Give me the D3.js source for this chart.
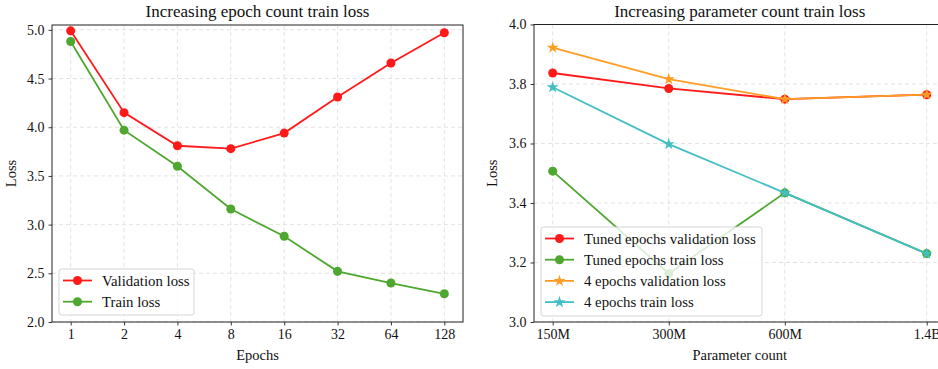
<!DOCTYPE html>
<html>
<head>
<meta charset="utf-8">
<script src="https://cdn.jsdelivr.net/npm/d3@7"></script>
<style>
  body { margin: 0; background: #fff; }
  svg text { font-family: "Liberation Serif", "DejaVu Serif", serif; fill: #111; }
</style>
</head>
<body>
<div id="chart"></div>
<script>
// left panel data
var epochs = ["1", "2", "4", "8", "16", "32", "64", "128"];
var epochValLoss = [4.99, 4.15, 3.81, 3.78, 3.94, 4.31, 4.66, 4.97];
var epochTrainLoss = [4.88, 3.97, 3.60, 3.16, 2.88, 2.52, 2.40, 2.29];
var leftYTicks = [2.0, 2.5, 3.0, 3.5, 4.0, 4.5, 5.0];

// right panel data
var params = [150e6, 300e6, 600e6, 1.4e9];
var paramLabels = ["150M", "300M", "600M", "1.4B"];
var tunedValLoss = [3.837, 3.785, 3.749, 3.764];
var tunedTrainLoss = [3.507, 3.163, 3.434, 3.230];
var fourValLoss = [3.922, 3.816, 3.749, 3.764];
var fourTrainLoss = [3.789, 3.598, 3.434, 3.230];
var rightYTicks = [3.0, 3.2, 3.4, 3.6, 3.8, 4.0];

var red = "#ff1a1a", green = "#4ea72e", orange = "#ff9d24", cyan = "#42bec4";

var svg = d3.select("#chart").append("svg")
	.attr("width", 938)
	.attr("height", 369);

function markerFor(s) {
	return s.marker == "star" ? d3.symbol().type(d3.symbolStar).size(44) : d3.symbol().type(d3.symbolCircle).size(64);
}

function drawPanel(opt) {
	var g = svg.append("g");
	var x0 = opt.x0, x1 = opt.x1, y0 = opt.y0, y1 = opt.y1;
	var x = opt.x, y = opt.y;

	// grid
	g.append("g").selectAll("line").data(opt.xTickVals).enter().append("line")
		.attr("x1", function(d){ return x(d) }).attr("x2", function(d){ return x(d) })
		.attr("y1", y0).attr("y2", y1)
		.attr("stroke", "#e0e0e0").attr("stroke-width", 0.9).attr("stroke-dasharray", "4,3");
	g.append("g").selectAll("line").data(opt.yTicks).enter().append("line")
		.attr("x1", x0).attr("x2", x1)
		.attr("y1", function(d){ return y(d) }).attr("y2", function(d){ return y(d) })
		.attr("stroke", "#e0e0e0").attr("stroke-width", 0.9).attr("stroke-dasharray", "4,3");

	// series
	opt.series.forEach(function(s){
		var pts = opt.xTickVals.map(function(k, i){ return [x(k), y(s.values[i])] });
		g.append("path")
			.attr("d", d3.line()(pts))
			.attr("fill", "none").attr("stroke", s.color).attr("stroke-width", 1.8);
		g.append("g").selectAll("path").data(pts).enter().append("path")
			.attr("d", markerFor(s))
			.attr("transform", function(p){ return "translate(" + p[0] + "," + p[1] + ")" })
			.attr("fill", s.color);
	});

	// axes
	var xAxis = d3.axisBottom(x).tickValues(opt.xTickVals).tickSize(3.5).tickPadding(4)
		.tickFormat(function(d, i){ return opt.xLabels[i] });
	var gx = g.append("g").attr("transform", "translate(0," + y1 + ")").call(xAxis);
	var yAxis = d3.axisLeft(y).tickValues(opt.yTicks).tickSize(3.5).tickPadding(4)
		.tickFormat(d3.format(".1f"));
	var gy = g.append("g").attr("transform", "translate(" + x0 + ",0)").call(yAxis);
	[gx, gy].forEach(function(a){
		a.select(".domain").remove();
		a.selectAll("line").attr("stroke", "#222").attr("stroke-width", 0.9);
		a.selectAll("text").style("font-size", "14px").attr("fill", "#111");
	});

	// spines
	g.append("rect")
		.attr("x", x0).attr("y", y0).attr("width", x1 - x0).attr("height", y1 - y0)
		.attr("fill", "none").attr("stroke", "#222").attr("stroke-width", 1);

	// titles
	g.append("text").attr("x", (x0 + x1) / 2).attr("y", 17)
		.attr("text-anchor", "middle").style("font-size", "17px").text(opt.title);
	g.append("text").attr("x", (x0 + x1) / 2).attr("y", 360)
		.attr("text-anchor", "middle").style("font-size", "14.5px").text(opt.xTitle);
	g.append("text")
		.attr("transform", "translate(" + opt.yTitleX + "," + ((y0 + y1) / 2) + ") rotate(-90)")
		.attr("text-anchor", "middle").style("font-size", "14.5px").text("Loss");

	// legend
	var L = opt.legend;
	var lg = g.append("g");
	lg.append("rect")
		.attr("x", L.x).attr("y", L.y).attr("width", L.w).attr("height", L.h)
		.attr("rx", 2.5).attr("fill", "#fff").attr("fill-opacity", 0.8)
		.attr("stroke", "#d0d0d0").attr("stroke-width", 0.9);
	opt.series.forEach(function(s, i){
		var cy = L.y + 11.5 + i * 21.2;
		lg.append("line").attr("x1", L.x + 4).attr("x2", L.x + 33)
			.attr("y1", cy).attr("y2", cy).attr("stroke", s.color).attr("stroke-width", 1.8);
		lg.append("path").attr("d", markerFor(s))
			.attr("transform", "translate(" + (L.x + 18.5) + "," + cy + ")").attr("fill", s.color);
		lg.append("text").attr("x", L.x + 43).attr("y", cy + 5)
			.style("font-size", "14.8px").text(s.name);
	});
	return g;
}

// left panel
var lx0 = 52, lx1 = 463, ly0 = 25, ly1 = 322;
var xLeft = d3.scalePoint().domain(epochs).range([lx0, lx1]).padding(0.35);
var yLeft = d3.scaleLinear().domain([2.0, 5.05]).range([ly1, ly0]);
drawPanel({
	x0: lx0, x1: lx1, y0: ly0, y1: ly1, x: xLeft, y: yLeft,
	xTickVals: epochs, xLabels: epochs, yTicks: leftYTicks,
	title: "Increasing epoch count train loss", xTitle: "Epochs", yTitleX: 16,
	series: [
		{ name: "Validation loss", values: epochValLoss, color: red, marker: "circle" },
		{ name: "Train loss", values: epochTrainLoss, color: green, marker: "circle" }
	],
	legend: { x: 59, y: 269, w: 135, h: 46 }
});

// right panel (axes run past the page edge, as in the figure)
var rx0 = 534, rx1 = 945.4, ry0 = 24.5, ry1 = 322;
var rm = (rx1 - rx0) * 0.05 / 1.1;
var xRight = d3.scaleLog().domain([params[0], params[params.length - 1]]).range([rx0 + rm, rx1 - rm]);
var yRight = d3.scaleLinear().domain([3.0, 4.0]).range([ry1, ry0]);
drawPanel({
	x0: rx0, x1: rx1, y0: ry0, y1: ry1, x: xRight, y: yRight,
	xTickVals: params, xLabels: paramLabels, yTicks: rightYTicks,
	title: "Increasing parameter count train loss", xTitle: "Parameter count", yTitleX: 497,
	series: [
		{ name: "Tuned epochs validation loss", values: tunedValLoss, color: red, marker: "circle" },
		{ name: "Tuned epochs train loss", values: tunedTrainLoss, color: green, marker: "circle" },
		{ name: "4 epochs validation loss", values: fourValLoss, color: orange, marker: "star" },
		{ name: "4 epochs train loss", values: fourTrainLoss, color: cyan, marker: "star" }
	],
	legend: { x: 541, y: 227, w: 221, h: 89 }
});
</script>
</body>
</html>
